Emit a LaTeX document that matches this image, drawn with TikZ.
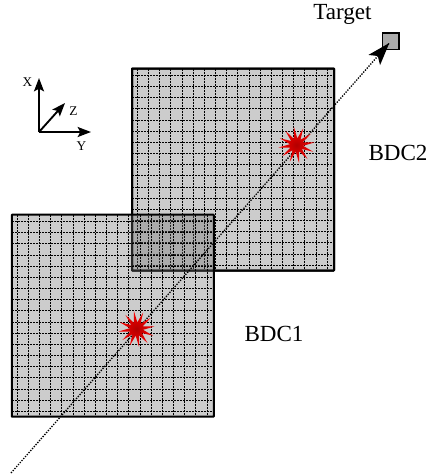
\documentclass[tikz,border=0pt]{standalone}
\usepackage{fontspec}
\setmainfont{Liberation Serif}
\usetikzlibrary{arrows.meta,shapes.geometric,calc}
\tikzset{
  detector/.style={rectangle,draw=black,line width=1.5pt,rounded corners=0.4pt,inner sep=0pt,minimum size=151.5pt,outer sep=0pt},
  gridline/.style={black,line width=0.85pt,dash pattern=on 1.5pt off 0.75pt},
  spark/.style={star,star points=12,star point ratio=2.7,minimum size=27pt,inner sep=0pt,rotate=8,inner color=red!70!black,outer color=red},
  axis/.style={line width=1.4pt,-{Stealth[length=10pt,width=7.5pt,inset=2pt]}},
  axislabel/.style={font=\fontsize{10pt}{11pt}\selectfont,inner sep=0pt},
  biglabel/.style={font=\fontsize{17.3pt}{19pt}\selectfont,inner sep=0pt},
  beam/.style={line width=1pt,dash pattern=on 1pt off 1pt},
}
% #1 left, #2 top of a detector, in pixels
\newcommand{\gridfor}[2]{%
  \foreach \k in {0,...,17}{
    \pgfmathsetmacro{\gx}{round(#1+4.9+11.17*\k)+0.5}
    \pgfmathsetmacro{\gy}{round(#2+6.4+11.17*\k)+0.5}
    \draw[gridline] (\gx,#2) -- (\gx,#2+202);
    \draw[gridline] (#1,\gy) -- (#1+202,\gy);
  }
}
\begin{document}
\begin{tikzpicture}[x=0.75pt,y=-0.75pt]
\useasboundingbox (0,0) rectangle (429,476);
% BDC2
\node[detector,fill={rgb,1:red,0.8;green,0.8;blue,0.8}] (bdctwo) at (233,169.5) {};
\gridfor{132}{68.5}
\node[detector,draw=black] at (233,169.5) {};
% BDC1
\node[detector,draw=none,fill={rgb,1:red,0.43;green,0.43;blue,0.43},fill opacity=0.35] (bdcone) at (112.8,315.7) {};
\gridfor{11.8}{214.7}
\node[detector] at (112.8,315.7) {};
% Target
\node[rectangle,draw=black,line width=1.1pt,fill=black!33,minimum size=12.3pt,inner sep=0pt] (target) at (390.8,41.3) {};
% Beam
\coordinate (beamstart) at (11,473);
\coordinate (beamtip) at (389.3,43);
\draw[beam] (beamstart) -- (beamtip);
\draw[-{Stealth[length=17pt,width=11.5pt,inset=4pt]},line width=1pt] ($(beamtip)+(-3,3.4)$) -- (beamtip);
% Sparks
\node[spark] (hitone) at (136.5,329) {};
\node[spark] (hittwo) at (296.5,145) {};
% Labels
\node[biglabel] (tlabel) at (342.5,14.5) {Target};
\node[biglabel] (bdctwolabel) at (398,152.5) {BDC2};
\node[biglabel] (bdconelabel) at (274,333.5) {BDC1};
% Axes
\coordinate (origin) at (39,132);
\coordinate (xtip) at (39,78);
\coordinate (ytip) at (91,132);
\coordinate (ztip) at (65,103);
\draw[axis] (origin) -- (xtip);
\draw[axis] (origin) -- (ytip);
\draw[axis] (origin) -- (ztip);
\node[axislabel] (xlabel) at (27.5,82) {X};
\node[axislabel] (ylabel) at (81.5,146) {Y};
\node[axislabel] (zlabel) at (73.5,111) {Z};
\end{tikzpicture}
\end{document}
